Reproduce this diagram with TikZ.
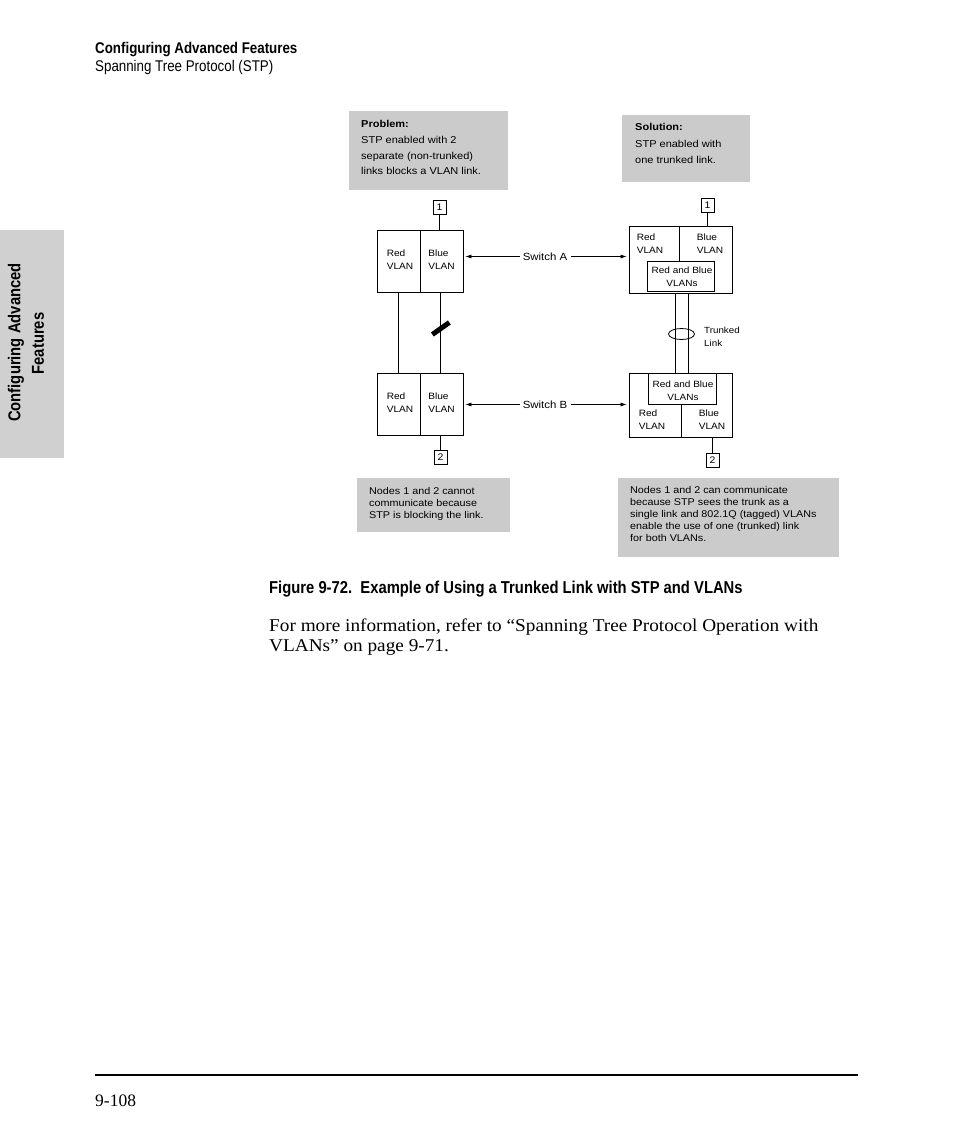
\documentclass[tikz,border=0pt]{standalone}
\usepackage{fontspec}
\setmainfont{Liberation Serif}
\newfontfamily\nar[FakeStretch=0.86]{Liberation Sans}
\newfontfamily\dia[FakeStretch=1.1]{Liberation Sans}
\newfontfamily\bodyfont[FakeStretch=1.07]{Liberation Serif}
\usetikzlibrary{arrows.meta,shapes.geometric,calc}
\definecolor{boxgray}{HTML}{CBCBCB}
\definecolor{tabgray}{HTML}{D0D0D0}
\begin{document}
\begin{tikzpicture}[x=1pt,y=-1pt,
  graybox/.style={fill=boxgray,draw=none,inner sep=0},
  sw/.style={draw,line width=0.8pt,inner sep=0},
  nodebox/.style={draw,line width=0.8pt,inner sep=0,minimum width=13,minimum height=14,font=\dia\fontsize{9.5}{12}\selectfont},
  lbl/.style={inner sep=0,align=left,font=\dia\fontsize{9.2}{13}\selectfont},
  txt/.style={inner sep=0,anchor=base west,font=\dia\fontsize{10}{12}\selectfont},
  txtb/.style={txt,font=\dia\bfseries\fontsize{10}{12}\selectfont},
  note/.style={txt,font=\dia\fontsize{9.8}{12}\selectfont},
  link/.style={line width=0.8pt},
  arr/.style={line width=0.6pt,-{Latex[length=6pt,width=4pt]}}]
\useasboundingbox (0,0) rectangle (954,1145);
\fill[white] (0,0) rectangle (954,1145);

% header
\node[txt,font=\nar\bfseries\fontsize{15.5}{18}\selectfont] (h1) at (95,54) {Configuring Advanced Features};
\node[txt,font=\nar\fontsize{15.5}{18}\selectfont] (h2) at (95,72) {Spanning Tree Protocol (STP)};

% side tab
\node[graybox,fill=tabgray,minimum width=64,minimum height=228] (tab) at (32,344) {};
\node[inner sep=0,rotate=90,font=\nar\bfseries\fontsize{17.2}{20}\selectfont] (tab1) at (16,342.5) {Configuring Advanced};
\node[inner sep=0,rotate=90,font=\nar\bfseries\fontsize{17.2}{20}\selectfont] (tab2) at (38,343.5) {Features};

% problem / solution boxes
\node[graybox,minimum width=159,minimum height=79] (prob) at (428.5,150.5) {};
\node[txtb] (p0) at (361,128) {Problem:};
\node[txt] (p1) at (361,143) {STP enabled with 2};
\node[txt] (p2) at (361,159) {separate (non-trunked)};
\node[txt] (p3) at (361,174) {links blocks a VLAN link.};

\node[graybox,minimum width=128,minimum height=67] (sol) at (686,148.5) {};
\node[txtb] (s0) at (635,131) {Solution:};
\node[txt] (s1) at (635,147) {STP enabled with};
\node[txt] (s2) at (635,163) {one trunked link.};

% left switches
\node[sw,minimum width=86,minimum height=62] (lA) at (420,261) {};
\draw[link] (lA.north) -- (lA.south);
\node[lbl] (lAr) at (400,259.5) {Red\\VLAN};
\node[lbl] (lAb) at (441.5,259.5) {Blue\\VLAN};
\node[nodebox] (l1) at (439.5,207) {1};
\draw[link] (l1.south) -- (l1.south |- lA.north);

\node[sw,minimum width=86,minimum height=62] (lB) at (420,404) {};
\draw[link] (lB.north) -- (lB.south);
\node[lbl] (lBr) at (400,402.5) {Red\\VLAN};
\node[lbl] (lBb) at (441.5,402.5) {Blue\\VLAN};
\node[nodebox] (l2) at (440.5,457) {2};
\draw[link] (l2.north) -- (l2.north |- lB.south);

\draw[link] ($(lA.south west)!0.25!(lA.south east)$) -- ($(lB.north west)!0.25!(lB.north east)$);
\draw[link] ($(lA.south west)!0.74!(lA.south east)$) coordinate (bt) -- ($(lB.north west)!0.74!(lB.north east)$) coordinate (bb);
\draw[line width=5pt] ($(bt)!0.45!(bb)+(-8.5,6)$) -- ($(bt)!0.45!(bb)+(8.5,-6)$);

% right switch A
\node[sw,minimum width=103,minimum height=67] (rA) at (680.5,259.5) {};
\node[sw,minimum width=67,minimum height=30] (rAi) at (680.5,276) {};
\draw[link] (679,0 |- rA.north) coordinate (dA) -- (dA |- rAi.north);
\node[lbl] (rAr) at (650,243.5) {Red\\VLAN};
\node[lbl] (rAb) at (710,243.5) {Blue\\VLAN};
\node[inner sep=0,align=center,font=\dia\fontsize{9.1}{13}\selectfont] (rAt) at (682,276.5) {Red and Blue\\VLANs};
\node[nodebox] (r1) at (707.5,205) {1};
\draw[link] (r1.south) -- (r1.south |- rA.north);

% right switch B
\node[sw,minimum width=103,minimum height=64] (rB) at (680.5,405) {};
\node[sw,minimum width=68,minimum height=31] (rBi) at (682,388.5) {};
\draw[link] (681,0 |- rB.south) coordinate (dB) -- (dB |- rBi.south);
\node[lbl] (rBr) at (652,420) {Red\\VLAN};
\node[lbl] (rBb) at (712,420) {Blue\\VLAN};
\node[inner sep=0,align=center,font=\dia\fontsize{9.1}{13}\selectfont] (rBt) at (683,390.5) {Red and Blue\\VLANs};
\node[nodebox] (r2) at (712.5,460) {2};
\draw[link] (r2.north) -- (r2.north |- rB.south);

% trunk
\draw[link] (675,0 |- rA.south) coordinate (t1) -- (t1 |- rB.north);
\draw[link] (688,0 |- rA.south) coordinate (t2) -- (t2 |- rB.north);
\node[draw,ellipse,line width=0.8pt,minimum width=26,minimum height=11,inner sep=0] (ell) at (681.5,334) {};
\node[lbl,anchor=west,font=\dia\fontsize{8.9}{13.5}\selectfont] (tl) at (704,337) {Trunked\\Link};

% switch labels and arrows
\node[inner sep=0,font=\dia\fontsize{10.4}{12}\selectfont] (swA) at (545,256.5) {Switch A};
\draw[arr,shorten >=2pt] ([xshift=-3pt]swA.west) -- (lA.east |- swA.west);
\draw[arr,shorten >=2pt] ([xshift=4pt]swA.east) -- (rA.west |- swA.east);
\node[inner sep=0,font=\dia\fontsize{10.4}{12}\selectfont] (swB) at (545,404.5) {Switch B};
\draw[arr,shorten >=2pt] ([xshift=-3pt]swB.west) -- (lB.east |- swB.west);
\draw[arr,shorten >=2pt] ([xshift=4pt]swB.east) -- (rB.west |- swB.east);

% notes
\node[graybox,minimum width=153,minimum height=54] (ln) at (433.5,505) {};
\node[note] (ln1) at (369,494) {Nodes 1 and 2 cannot};
\node[note] (ln2) at (369,506) {communicate because};
\node[note] (ln3) at (369,518) {STP is blocking the link.};

\node[graybox,minimum width=221,minimum height=79] (rn) at (728.5,517.5) {};
\node[note] (rn1) at (630,493) {Nodes 1 and 2 can communicate};
\node[note] (rn2) at (630,505) {because STP sees the trunk as a};
\node[note] (rn3) at (630,517) {single link and 802.1Q (tagged) VLANs};
\node[note] (rn4) at (630,529) {enable the use of one (trunked) link};
\node[note] (rn5) at (630,541) {for both VLANs.};

% caption and body
\node[txt,font=\nar\bfseries\fontsize{17.2}{20}\selectfont] (cap) at (269,593) {Figure 9-72.\ \ Example of Using a Trunked Link with STP and VLANs};
\node[txt,font=\bodyfont\fontsize{18}{20}\selectfont] (b1) at (269,631) {For more information, refer to “Spanning Tree Protocol Operation with};
\node[txt,font=\bodyfont\fontsize{18}{20}\selectfont] (b2) at (269,651) {VLANs” on page 9-71.};

% footer
\coordinate (fl) at (95,1075);
\coordinate (fr) at (858,1075);
\draw[line width=1.6pt] (fl) -- (fr);
\node[txt,font=\rmfamily\fontsize{17.5}{20}\selectfont] (pg) at (95,1106) {9-108};
\end{tikzpicture}
\end{document}
